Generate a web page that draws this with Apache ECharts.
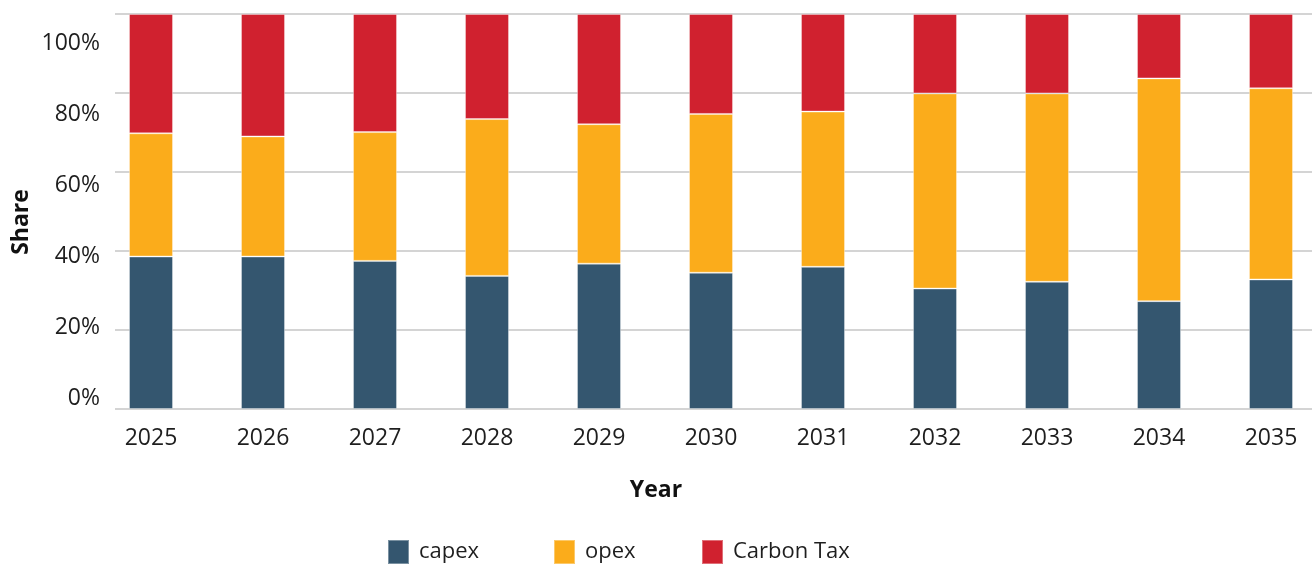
<!DOCTYPE html>
<html>
<head>
<meta charset="utf-8">
<script src="https://cdn.jsdelivr.net/npm/echarts@6/dist/echarts.min.js"></script>
<style>
html,body{margin:0;padding:0;background:#fff;}
#chart{width:1312px;height:565px;}
</style>
</head>
<body>
<div id="chart"></div>
<script>
const years = ['2025','2026','2027','2028','2029','2030','2031','2032','2033','2034','2035'];
const capex = [38.6, 38.6, 37.5, 33.7, 36.8, 34.5, 36.0, 30.5, 32.2, 27.3, 32.8];
const opex = [31.2, 30.4, 32.6, 39.7, 35.3, 40.2, 39.3, 49.4, 47.7, 56.4, 48.4];
const carbonTax = [30.2, 31.0, 29.9, 26.6, 27.9, 25.3, 24.7, 20.1, 20.1, 16.3, 18.8];
const yTicks = [0, 20, 40, 60, 80, 100];

const FONT = '"Open Sans", sans-serif';
const TEXT = '#1e1e1e';
const colors = { capex: '#34566f', opex: '#fbac1b', tax: '#d0212f' };

const chart = echarts.init(document.getElementById('chart'), null, { renderer: 'canvas' });

function legendItem(name, left) {
  return {
    data: [name], left: left, top: 539, padding: 0, icon: 'rect', itemWidth: 21, itemHeight: 24,
    textStyle: { fontFamily: FONT, fontSize: 22, color: TEXT, padding: [0, 0, 0, 5] },
    selectedMode: false
  };
}

const option = {
  animation: false,
  backgroundColor: '#ffffff',
  textStyle: { fontFamily: FONT },
  grid: [
    { left: 95, width: 1232, top: 14, bottom: 156, outerBoundsMode: 'none', containLabel: false },
    { left: 115, right: 0, top: 14, bottom: 156, outerBoundsMode: 'none' },
    { left: 108, right: 0, top: 43, bottom: 167, outerBoundsMode: 'none' }
  ],
  xAxis: [
    { gridIndex: 0, type: 'category', data: years,
      axisLine: { show: false }, axisTick: { show: false },
      axisLabel: { fontFamily: FONT, fontSize: 23, color: TEXT, margin: 18 } },
    { gridIndex: 1, type: 'category', data: years, show: false },
    { gridIndex: 2, type: 'category', data: years, show: false }
  ],
  yAxis: [
    { gridIndex: 0, type: 'value', min: 0, max: 100, show: false, splitLine: { show: false } },
    { gridIndex: 1, type: 'value', min: 0, max: 100, interval: 20,
      axisLine: { show: false }, axisTick: { show: false }, axisLabel: { show: false },
      splitLine: { show: true, lineStyle: { color: '#c6c6c6', width: 1.5 } } },
    { gridIndex: 2, type: 'value', min: 0, max: 100, interval: 20,
      axisLine: { show: false }, axisTick: { show: false }, splitLine: { show: false },
      axisLabel: { fontFamily: FONT, fontSize: 23, color: TEXT, margin: 8,
        formatter: v => yTicks.includes(v) ? v + '%' : '' } }
  ],
  title: {
    text: 'Year', left: 'center', top: 474,
    textStyle: { fontFamily: FONT, fontSize: 23, fontWeight: 'bold', color: '#111' }
  },
  graphic: [
    { type: 'text', x: 21, y: 222, rotation: Math.PI / 2,
      style: { text: 'Share', fontFamily: FONT, fontSize: 23, fontWeight: 'bold', fill: '#111',
        textAlign: 'center', textVerticalAlign: 'middle' } }
  ],
  legend: [
    legendItem('capex', 387),
    legendItem('opex', 553),
    legendItem('Carbon Tax', 701)
  ],
  series: [
    { name: 'capex', type: 'bar', stack: 'total', xAxisIndex: 0, yAxisIndex: 0,
      barWidth: 44, data: capex,
      itemStyle: { color: colors.capex, borderColor: 'rgba(255,255,255,0.35)', borderWidth: 1 } },
    { name: 'opex', type: 'bar', stack: 'total', xAxisIndex: 0, yAxisIndex: 0,
      barWidth: 44, data: opex,
      itemStyle: { color: colors.opex, borderColor: 'rgba(255,255,255,0.35)', borderWidth: 1 } },
    { name: 'Carbon Tax', type: 'bar', stack: 'total', xAxisIndex: 0, yAxisIndex: 0,
      barWidth: 44, data: carbonTax,
      itemStyle: { color: colors.tax, borderColor: 'rgba(255,255,255,0.35)', borderWidth: 1 } }
  ]
};
chart.setOption(option);
</script>
</body>
</html>
